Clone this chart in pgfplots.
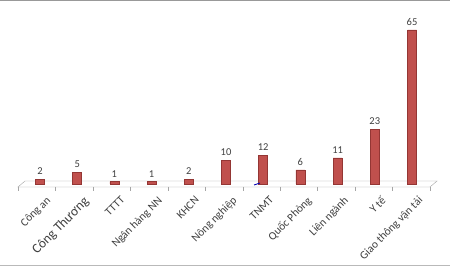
\documentclass[border=0pt]{standalone}
\usepackage{pgfplots}
\pgfplotsset{compat=1.18}
\usepackage{fontspec}
\setmainfont{Carlito}
\definecolor{barred}{HTML}{C0504D}
\definecolor{bardark}{HTML}{943634}
\definecolor{txt}{HTML}{404040}
\begin{document}
\begin{tikzpicture}[x=1pt,y=1pt]
\fill[white] (0,0) rectangle (450,267);
\fill[gray!80] (0,265.5) rectangle (450,267);
\fill[gray!55] (0,1) rectangle (450,2);
% floor
\draw[gray!70, fill=white] (18,80) -- (430,80) -- (437,86) -- (25,86) -- cycle;
\foreach \t in {0,...,11} {\draw[gray!70] ({18+\t*37.45},80) -- ++(0,-4);}
\begin{axis}[
  anchor=origin, at={(40pt,83pt)},
  x=37.2pt, y=2.37pt,
  xmin=-0.5, xmax=10.5, ymin=0, ymax=66,
  axis line style={draw=none},
  major tick length=0pt,
  ytick=\empty,
  /pgf/number format/assume math mode=true,
  xtick={0,...,10},
  xticklabels={Công an,{\fontsize{13.5}{15}\selectfont Công Thương},TTTT,Ngân hàng NN,KHCN,Nông nghiệp,TNMT,Quốc Phòng,Liên ngành,Y tế,Giao thông vận tải},
  xticklabel style={rotate=45, anchor=north east, font=\fontsize{11.3}{13}\selectfont, text=txt, inner sep=0pt, yshift=-12pt, xshift=-4pt},
  clip=false,
  ybar, bar width=9pt,
  nodes near coords,
  every node near coord/.append style={font=\fontsize{10.5}{12}\selectfont, text=txt, yshift=1pt},
]
\addplot[draw=bardark, fill=barred, line width=0.5pt]
coordinates {(0,2) (1,5) (2,1) (3,1) (4,2) (5,10) (6,12) (7,6) (8,11) (9,23) (10,65)};
\end{axis}
\draw[blue!70!black, line width=0.8pt] (254,82) -- (260,84);
\end{tikzpicture}
\end{document}
